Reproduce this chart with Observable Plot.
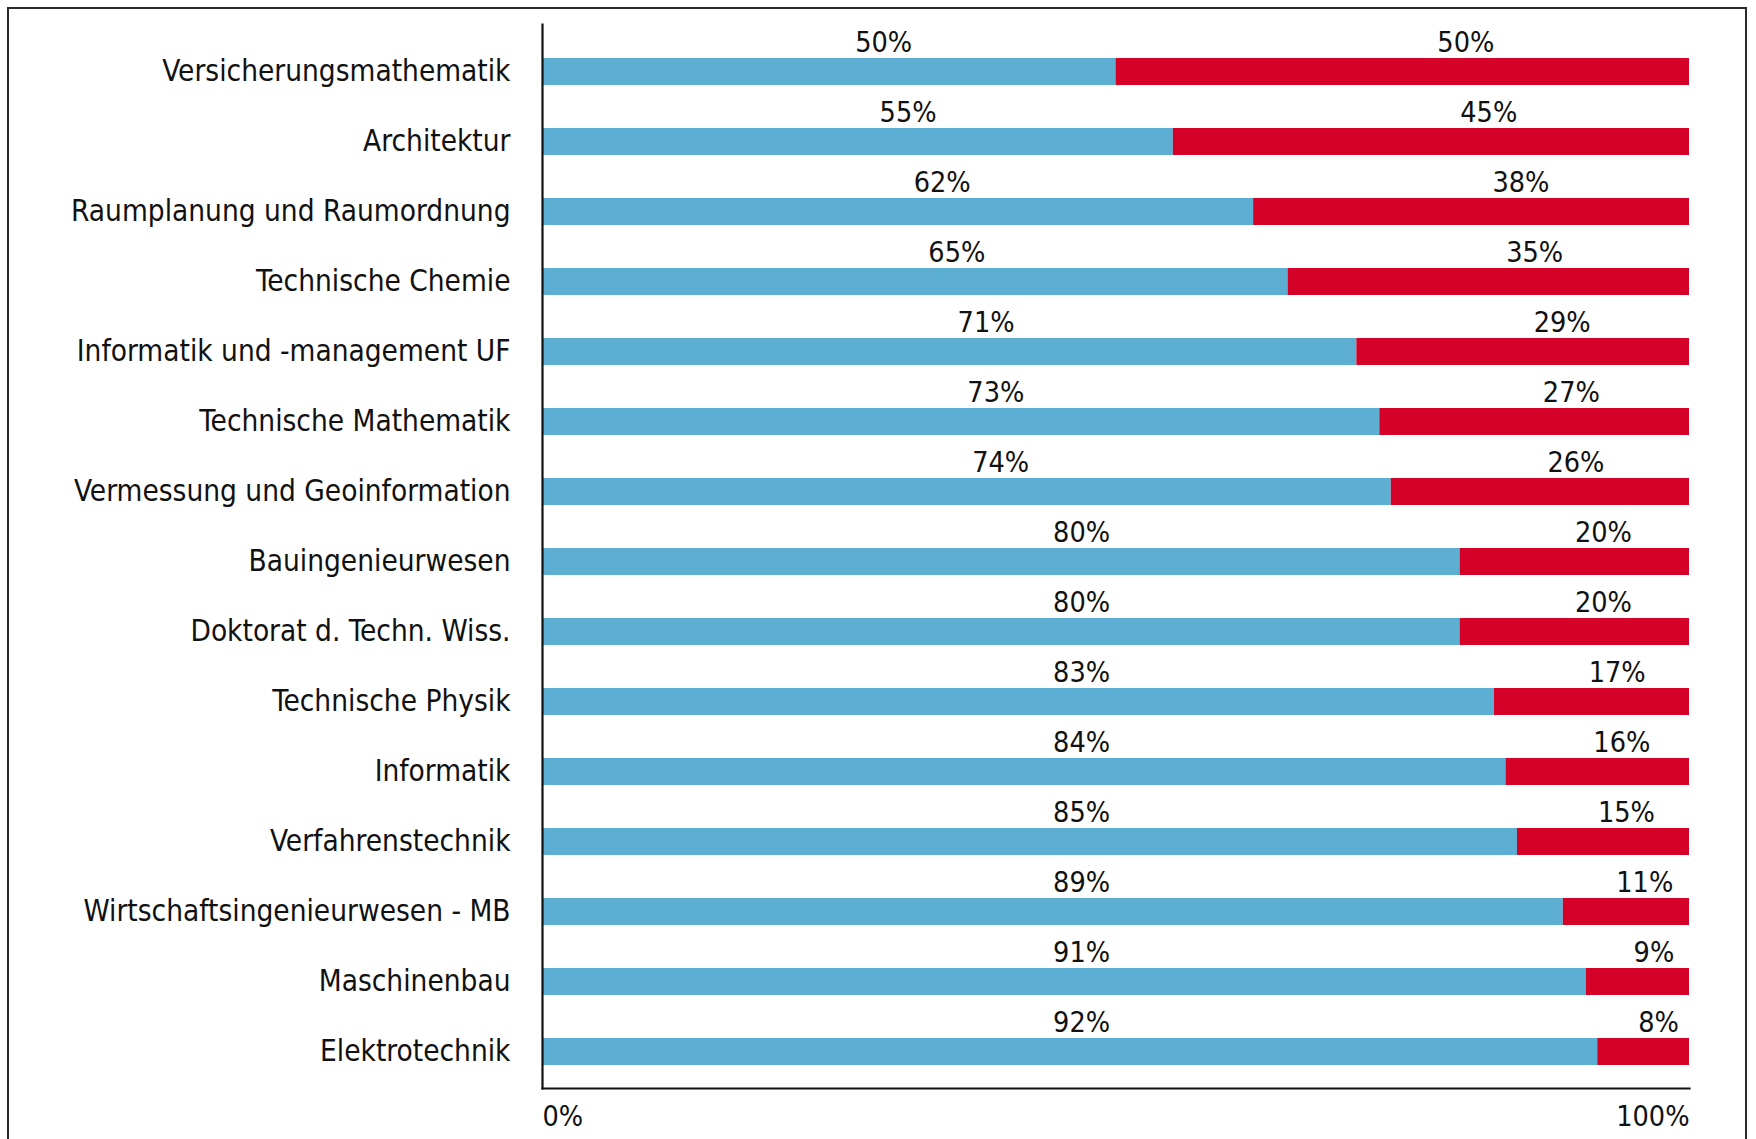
<!DOCTYPE html>
<html><head><meta charset="utf-8">
<script src="https://cdn.jsdelivr.net/npm/d3@7"></script>
<script src="https://cdn.jsdelivr.net/npm/@observablehq/plot@0.6"></script>
<style>
html,body{margin:0;padding:0;background:#fff;overflow:hidden;width:1756px;height:1139px;}
#frame{position:absolute;left:7px;top:7px;width:1740px;height:1200px;border:2px solid #2a2a2a;box-sizing:border-box;}
#chart{position:absolute;left:0;top:0;}
</style></head><body>
<div id="frame"></div>
<div id="chart"></div>
<script>
const categories = [
  "Versicherungsmathematik",
  "Architektur",
  "Raumplanung und Raumordnung",
  "Technische Chemie",
  "Informatik und -management UF",
  "Technische Mathematik",
  "Vermessung und Geoinformation",
  "Bauingenieurwesen",
  "Doktorat d. Techn. Wiss.",
  "Technische Physik",
  "Informatik",
  "Verfahrenstechnik",
  "Wirtschaftsingenieurwesen - MB",
  "Maschinenbau",
  "Elektrotechnik"
];
const maenner = [50, 55, 62, 65, 71, 73, 74, 80, 80, 83, 84, 85, 89, 91, 92];
const frauen  = [50, 45, 38, 35, 29, 27, 26, 20, 20, 17, 16, 15, 11,  9,  8];
const xTicks = [0, 100];

const rows = categories.map((c, i) => ({cat: c, a: maenner[i], b: frauen[i]}));
const pct = d => d + "%";
const FS = 28.5;
const FSY = 29.5;
const blueLabelX = d => d.a >= 78 ? 47 : 0.425 * d.a + 8.5;
const redLabelX = d => 100.5 - 0.4 * d.b;

const chart = Plot.plot({
  width: 1756,
  height: 1139,
  marginLeft: 542,
  marginRight: 67,
  marginTop: 24,
  marginBottom: 51,
  style: {fontFamily: "'DejaVu Sans Condensed', 'DejaVu Sans', sans-serif", color: "#111", background: "transparent"},
  x: {domain: [0, 100]},
  y: {domain: categories, paddingInner: 0.617, paddingOuter: 0.3085, insetTop: 10},
  marks: [
    Plot.barX(rows, {y: "cat", x1: 0, x2: "a", fill: "#5cafd3"}),
    Plot.barX(rows, {y: "cat", x1: "a", x2: d => d.a + d.b, fill: "#d40027"}),
    Plot.text(rows, {x: blueLabelX, y: "cat", text: d => pct(d.a), lineAnchor: "bottom", dy: -20, fontSize: FS, fill: "#111"}),
    Plot.text(rows, {x: redLabelX, y: "cat", text: d => pct(d.b), lineAnchor: "bottom", dy: -20, fontSize: FS, fill: "#111"}),
    Plot.axisY({tickSize: 0, tickPadding: 32, fontSize: FSY, label: null}),
    Plot.axisX([xTicks[0]], {textAnchor: "start", tickSize: 0, tickPadding: 17, fontSize: FS, tickFormat: pct, label: null}),
    Plot.axisX([xTicks[1]], {textAnchor: "end", tickSize: 0, tickPadding: 17, fontSize: FS, tickFormat: pct, label: null}),
    Plot.frame({anchor: "left", stroke: "#111", strokeWidth: 2.2}),
    Plot.frame({anchor: "bottom", stroke: "#111", strokeWidth: 2.2})
  ]
});
document.getElementById("chart").appendChild(chart);
</script>
</body></html>
